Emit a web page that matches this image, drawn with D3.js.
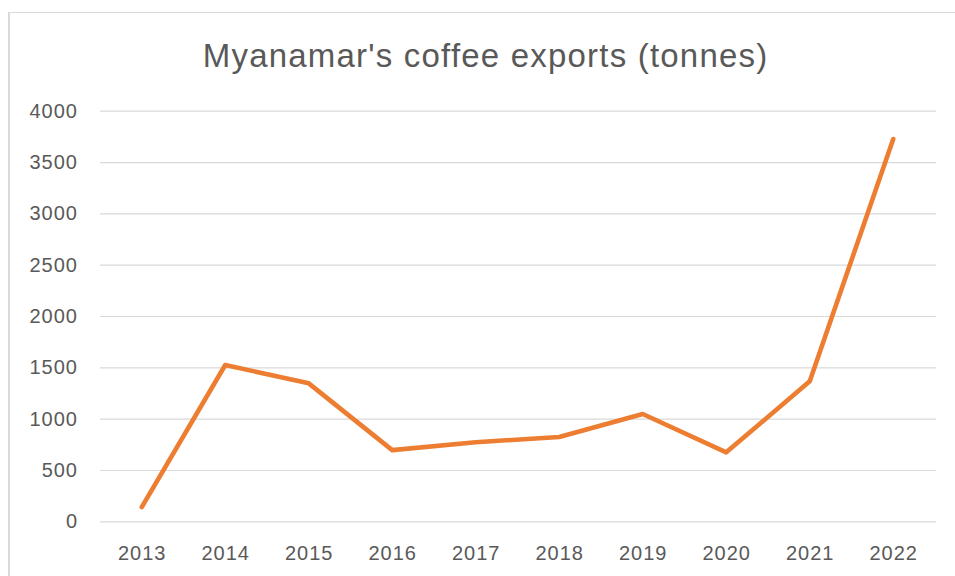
<!DOCTYPE html>
<html>
<head>
<meta charset="utf-8">
<script src="https://cdn.jsdelivr.net/npm/d3@7"></script>
<style>
  html, body { margin: 0; padding: 0; background: #ffffff; }
  svg { display: block; }
</style>
</head>
<body>
<svg id="chart" width="955" height="576"></svg>
<script>
// Myanmar coffee exports by year, in tonnes
const years = ["2013", "2014", "2015", "2016", "2017", "2018", "2019", "2020", "2021", "2022"];
const exportsTonnes = [138, 1523, 1344, 693, 770, 822, 1045, 672, 1364, 3724];
const yTicks = [0, 500, 1000, 1500, 2000, 2500, 3000, 3500, 4000];
const chartTitle = "Myanamar's coffee exports (tonnes)";

const svg = d3.select("#chart");
const W = 955, H = 576;
const plot = { left: 100, right: 935, top: 110.7, bottom: 521.3 };
const textColor = "#595959";
const gridColor = "#d9d9d9";
const lineColor = "#ed7d31";
const font = "'Liberation Sans', Arial, sans-serif";

// Chart frame
svg.append("rect")
  .attr("x", 9).attr("y", 12.5)
  .attr("width", W + 10).attr("height", H + 10)
  .attr("fill", "#ffffff")
  .attr("stroke", gridColor).attr("stroke-width", 1);
svg.append("line")
  .attr("x1", 9).attr("x2", 9).attr("y1", 12).attr("y2", H)
  .attr("stroke", gridColor).attr("stroke-width", 2);

const x = d3.scaleBand().domain(years).range([plot.left, plot.right]);
const y = d3.scaleLinear().domain([0, 4000]).range([plot.bottom, plot.top]);

// Horizontal gridlines + y labels
const yAxis = d3.axisLeft(y).tickValues(yTicks).tickSize(-(plot.right - plot.left + 1)).tickPadding(22).tickFormat(d3.format("d"));
const gy = svg.append("g").attr("transform", `translate(${plot.left},0)`).call(yAxis);
gy.select(".domain").remove();
gy.selectAll(".tick line").attr("stroke", gridColor).attr("stroke-width", 1.2);
gy.selectAll(".tick text")
  .attr("fill", textColor)
  .style("font-family", font)
  .style("font-size", "20px")
  .style("letter-spacing", "1px");

// X category labels
const xAxis = d3.axisBottom(x).tickSize(0).tickPadding(0);
const gx = svg.append("g").attr("transform", `translate(0,${plot.bottom})`).call(xAxis);
gx.select(".domain").remove();
gx.selectAll(".tick text")
  .attr("dy", "0")
  .attr("y", 38.5)
  .attr("x", 0.5)
  .attr("fill", textColor)
  .style("font-family", font)
  .style("font-size", "20px")
  .style("letter-spacing", "1px");

// Export line
const line = d3.line()
  .x((d, i) => x(years[i]) + x.bandwidth() / 2)
  .y(d => y(d));
svg.append("path")
  .datum(exportsTonnes)
  .attr("d", line)
  .attr("fill", "none")
  .attr("stroke", lineColor)
  .attr("stroke-width", 4.6)
  .attr("stroke-linejoin", "round")
  .attr("stroke-linecap", "round");

// Title
svg.append("text")
  .attr("x", 485.6).attr("y", 66.7)
  .attr("text-anchor", "middle")
  .attr("fill", textColor)
  .style("font-family", font)
  .style("font-size", "33px")
  .style("letter-spacing", "1.2px")
  .text(chartTitle);
</script>
</body>
</html>
